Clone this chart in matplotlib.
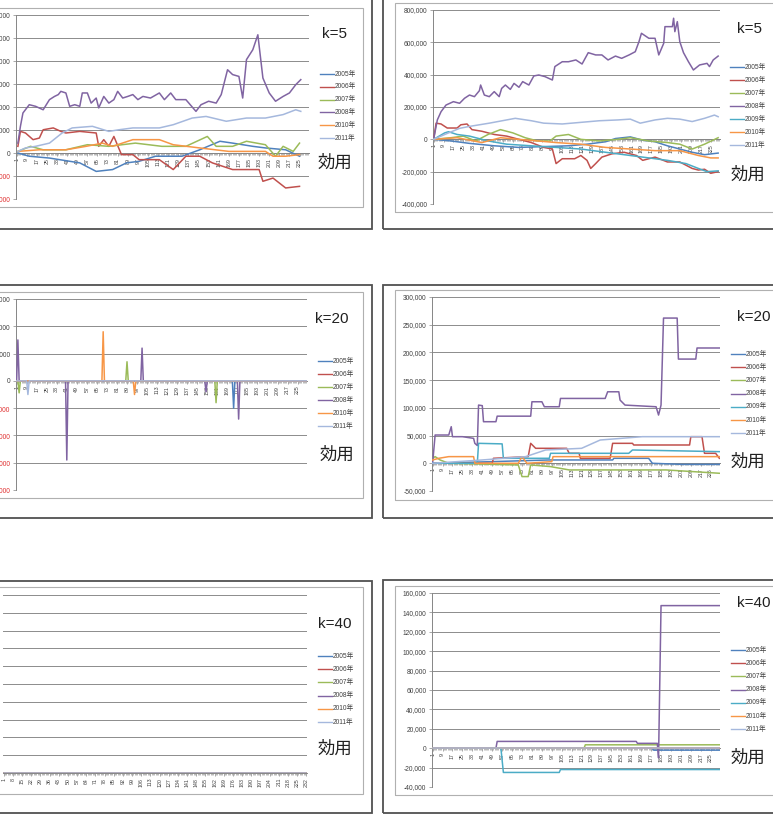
import matplotlib
matplotlib.use("Agg")
import matplotlib.pyplot as plt
from matplotlib.lines import Line2D
from matplotlib.patches import Rectangle
import numpy as np

plt.rcParams['font.family'] = ['Liberation Sans', 'Noto Sans CJK JP']

W, H = 773, 830
N = 232

years_left = ['2005年', '2006年', '2007年', '2008年', '2010年', '2011年']
years_right = ['2005年', '2006年', '2007年', '2008年', '2009年', '2010年', '2011年']
colors = {'2005年': '#4F81BD', '2006年': '#C0504D', '2007年': '#9BBB59', '2008年': '#8064A2',
          '2009年': '#4BACC6', '2010年': '#F79646', '2011年': '#A5B8DD'}

# k=5, left chart (category, value in thousands)
k5_left = {
    '2005年': [(2, 0), (11, -14), (27, -22), (51, -43), (64, -80), (77, -72), (88, -43), (98, -36), (111, -14),
              (132, -14), (146, 14), (162, 51), (172, 43), (188, 29), (198, 22), (214, 14), (225, -14)],
    '2006年': [(2, 29), (4, 94), (8, 87), (14, 58), (19, 65), (22, 101), (30, 109), (36, 94), (40, 87), (51, 94),
              (64, 87), (66, 29), (70, 58), (74, 29), (78, 72), (84, -7), (93, -7), (98, -29), (114, -29),
              (125, -72), (135, -14), (146, -14), (156, -43), (172, -72), (193, -72), (196, -123), (204, -109),
              (214, -152), (225, -145)],
    '2007年': [(2, 7), (12, 29), (22, 14), (40, 14), (57, 36), (74, 29), (95, 43), (116, 29), (135, 29), (152, 72),
              (159, 29), (172, 29), (183, 51), (198, 36), (206, -14), (212, 29), (220, 7), (225, 43)],
    '2008年': [(2, 43), (4, 116), (6, 174), (11, 210), (16, 203), (22, 188), (27, 232), (31, 246), (34, 254),
              (36, 268), (40, 261), (43, 203), (47, 210), (51, 203), (53, 261), (57, 261), (60, 217), (64, 239),
              (66, 196), (70, 246), (74, 217), (78, 232), (81, 268), (85, 239), (89, 246), (93, 254), (97, 232),
              (101, 246), (107, 239), (114, 261), (118, 232), (123, 261), (127, 232), (135, 232), (143, 181),
              (147, 210), (153, 225), (159, 217), (163, 254), (168, 362), (172, 341), (177, 333), (180, 239),
              (183, 406), (188, 449), (192, 514), (196, 326), (201, 261), (206, 225), (212, 246), (217, 261),
              (222, 297), (226, 319)],
    '2010年': [(2, 7), (19, 14), (40, 14), (56, 29), (69, 43), (77, 29), (93, 58), (114, 58), (125, 36), (146, 22),
              (169, 7), (198, 7), (204, -14), (214, -14), (225, -7)],
    '2011年': [(2, 7), (8, 22), (16, 29), (27, 43), (37, 87), (45, 109), (61, 116), (74, 94), (82, 101), (93, 109),
              (114, 109), (125, 123), (140, 152), (151, 159), (167, 138), (183, 152), (198, 152), (212, 167),
              (222, 188), (226, 181)],
}

# k=5, right chart
k5_right = {
    '2005年': [(1, 0), (15, -10), (30, -25), (50, -40), (70, -50), (90, -45), (110, -40), (125, -30), (140, -15),
              (148, 5), (160, 15), (170, -5), (180, -15), (190, -40), (200, -60), (210, -80), (220, -95), (231, -85)],
    '2006年': [(1, 0), (3, 100), (7, 95), (12, 70), (20, 70), (23, 90), (28, 95), (32, 60), (40, 50), (50, 30),
              (60, 20), (70, 0), (80, -20), (90, -50), (97, -60), (100, -150), (105, -120), (115, -120),
              (120, -100), (125, -130), (128, -180), (132, -150), (137, -110), (145, -90), (155, -80), (165, -100),
              (170, -130), (180, -110), (190, -140), (200, -140), (210, -180), (215, -190), (220, -185),
              (225, -210), (231, -200)],
    '2007年': [(1, 0), (15, 10), (25, 20), (35, -10), (45, 30), (55, 60), (65, 40), (75, 10), (85, -10), (95, -10),
              (100, 20), (110, 30), (120, 0), (135, -10), (150, 0), (160, 10), (175, -10), (190, -20), (200, -30),
              (210, -60), (220, -30), (231, 10)],
    '2008年': [(1, 0), (4, 120), (7, 171), (11, 212), (13, 219), (17, 233), (22, 223), (26, 254), (30, 274),
              (34, 264), (38, 301), (39, 336), (42, 274), (46, 264), (50, 295), (54, 264), (56, 315), (59, 336),
              (63, 309), (66, 346), (70, 322), (73, 357), (78, 336), (82, 392), (86, 398), (91, 388), (97, 367),
              (99, 450), (105, 480), (110, 480), (116, 491), (121, 466), (126, 536), (132, 522), (137, 522),
              (142, 491), (148, 515), (153, 501), (159, 522), (164, 542), (167, 604), (169, 656), (175, 625),
              (180, 625), (183, 522), (187, 594), (188, 697), (194, 697), (195, 749), (196, 666), (198, 728),
              (200, 604), (203, 536), (207, 480), (211, 429), (216, 460), (222, 470), (224, 450), (227, 491),
              (231, 515)],
    '2009年': [(1, 0), (10, 40), (13, 47), (20, 30), (30, 20), (45, -10), (60, -30), (80, -40), (100, -50),
              (120, -60), (140, -80), (160, -100), (175, -115), (190, -130), (205, -150), (215, -180), (222, -200),
              (231, -195)],
    '2010年': [(1, 0), (20, 10), (40, -20), (55, 10), (70, 0), (85, -10), (100, -20), (120, -30), (140, -50),
              (160, -60), (180, -70), (200, -70), (215, -100), (225, -115), (231, -115)],
    '2011年': [(1, 0), (10, 30), (22, 68), (30, 80), (46, 100), (60, 120), (67, 130), (80, 115), (90, 100),
              (105, 95), (120, 105), (135, 115), (150, 120), (160, 125), (168, 100), (180, 120), (190, 130),
              (200, 125), (210, 110), (220, 130), (228, 150), (231, 140)],
}

# k=20, left chart: zero except these spikes
k20_left_spikes = {
    '2005年': [(174, -50)],
    '2006年': [],
    '2007年': [(3, -22), (89, 35), (160, -40)],
    '2008年': [(2, 75), (41, -145), (101, 60), (152, -20), (178, -70)],
    '2010年': [(70, 90), (95, -25)],
    '2011年': [(10, -25)],
}

# k=20, right chart
k20_right = {
    '2005年': [(1, 0), (49, 3), (95, 6), (146, 6), (147, 9), (175, 9), (178, 0), (202, -2), (232, -2)],
    '2006年': [(1, 0), (49, 0), (50, 9), (78, 12), (80, 36), (84, 27), (109, 27), (111, 18), (119, 18), (120, 9),
              (144, 9), (146, 36), (162, 36), (163, 33), (208, 33), (209, 48), (218, 48), (220, 18), (229, 18),
              (232, 9)],
    '2007年': [(1, 9), (3, 12), (7, 6), (14, 0), (70, -3), (73, -24), (78, -24), (80, -3), (96, -6), (111, -12),
              (189, -12), (232, -18)],
    '2008年': [(1, 0), (3, 51), (14, 51), (16, 66), (17, 48), (25, 48), (34, 45), (35, 36), (37, 32), (38, 105),
              (41, 104), (42, 75), (52, 75), (53, 85), (80, 85), (81, 111), (89, 111), (91, 102), (103, 102),
              (104, 117), (140, 117), (142, 129), (151, 129), (152, 114), (156, 105), (181, 102), (183, 87),
              (185, 105), (187, 262), (198, 262), (199, 188), (213, 188), (214, 208), (232, 208)],
    '2009年': [(1, 0), (37, 0), (38, 36), (57, 35), (58, 9), (95, 9), (96, 18), (159, 18), (162, 24), (232, 21)],
    '2010年': [(1, 6), (6, 9), (14, 12), (34, 12), (35, 0), (70, 0), (73, 12), (77, 0), (97, 3), (98, 12),
              (232, 12)],
    '2011年': [(1, 0), (41, 6), (76, 12), (92, 24), (121, 27), (136, 42), (170, 48), (202, 48), (232, 48)],
}

# k=40, left chart: every series stays at zero
k40_left = {y: np.zeros(N) for y in years_left}

# k=40, right chart
k40_right = {
    '2005年': [(1, 0), (178, 0), (179, -2), (232, -2)],
    '2006年': [(1, 0), (232, 0)],
    '2007年': [(1, 0), (123, 0), (124, 3.5), (232, 3.5)],
    '2008年': [(1, 0), (52, 0), (53, 7), (165, 7), (166, 5), (182, 5), (183, -10), (185, 147), (232, 147)],
    '2009年': [(1, 0), (56, 0), (58, -25), (103, -25), (104, -22), (232, -22)],
    '2010年': [(1, 0), (232, 0)],
    '2011年': [(1, 0), (232, 0)],
}

fig = plt.figure(figsize=(W / 100, H / 100), dpi=100)


def box(x0, x1, y0, y1, ec, lw):
    fig.add_artist(Rectangle((x0 / W, 1 - y1 / H), (x1 - x0) / W, (y1 - y0) / H, transform=fig.transFigure,
                             fill=False, ec=ec, lw=lw, zorder=0))


def panel(x0, x1, y0, y1, ylo, yhi, ystep, label_step, red_neg):
    ax = fig.add_axes([x0 / W, 1 - y1 / H, (x1 - x0) / W, (y1 - y0) / H])
    ax.set_xlim(0.5, N + 0.5)
    ax.set_ylim(ylo, yhi)
    ticks = np.arange(ylo, yhi + ystep / 2, ystep)
    ax.set_yticks(ticks)
    ax.set_yticklabels([f"{t:,.0f}" for t in ticks], fontsize=4.8, color='#404040')
    if red_neg:
        for t, lab in zip(ticks, ax.get_yticklabels()):
            if t < 0:
                lab.set_color('#E03030')
    ax.set_xticks(range(1, N + 1, label_step))
    ax.set_xticks(range(1, N + 1), minor=True)
    ax.tick_params(axis='x', which='major', length=2.5, width=0.5, color='#868686', labelsize=3.8,
                   labelrotation=90, pad=1, labelcolor='#404040')
    ax.tick_params(axis='x', which='minor', length=1.5, width=0.4, color='#868686')
    ax.tick_params(axis='y', length=2, width=0.5, color='#868686', pad=2)
    ax.spines['bottom'].set_position(('data', 0))
    for s in ['top', 'right']:
        ax.spines[s].set_visible(False)
    for s in ['bottom', 'left']:
        ax.spines[s].set_color('#868686')
        ax.spines[s].set_linewidth(0.7)
    ax.yaxis.grid(True, color='#8C8C8C', lw=0.7)
    ax.set_axisbelow(True)
    return ax


def plot_points(ax, data, names):
    for nm in names:
        pts = data[nm]
        xs = [p[0] for p in pts]
        ys = [p[1] * 1000 for p in pts]
        ax.plot(xs, ys, color=colors[nm], lw=1.1, zorder=3)


def legend(x, y0, dy, names):
    for i, nm in enumerate(names):
        y = 1 - (y0 + i * dy) / H
        fig.add_artist(Line2D([x / W, (x + 14) / W], [y, y], color=colors[nm], lw=1.0))
        fig.text((x + 15) / W, y, nm, fontsize=4.8, va='center', color='#404040')


# frames
for (x0, x1, y0, y1) in [(-10, 372, -5, 229), (-10, 372, 285, 518), (-10, 372, 581, 813)]:
    box(x0, x1, y0, y1, '#505050', 1.3)
for (x0, x1, y0, y1) in [(383, 790, -5, 229), (383, 790, 285, 518), (383, 790, 580, 813)]:
    box(x0, x1, y0, y1, '#505050', 1.3)
for (x0, x1, y0, y1) in [(-10, 363, 8, 207), (-10, 363, 292, 498), (-10, 363, 587, 794),
                         (395, 790, 3, 212), (395, 790, 290, 500), (395, 790, 586, 795)]:
    box(x0, x1, y0, y1, '#B0B0B0', 0.8)

# k=5
ax = panel(16, 309, 15, 199, -200000, 600000, 100000, 8, True)
plot_points(ax, k5_left, years_left)
legend(320, 74, 12.8, years_left)
fig.text(322 / W, 1 - 34 / H, 'k=5', fontsize=11, va='center', color='#202020')
fig.text(318 / W, 1 - 163 / H, '効用', fontsize=12.5, va='center', color='#202020')

ax = panel(433, 720, 10, 204, -400000, 800000, 200000, 8, False)
plot_points(ax, k5_right, years_right)
legend(730, 67, 13, years_right)
fig.text(737 / W, 1 - 29 / H, 'k=5', fontsize=11, va='center', color='#202020')
fig.text(731 / W, 1 - 175 / H, '効用', fontsize=12.5, va='center', color='#202020')

# k=20
ax = panel(16, 307, 299, 490, -200000, 150000, 50000, 8, True)
cats = np.arange(1, N + 1)
for nm in years_left:
    vals = np.zeros(N)
    for c, v in k20_left_spikes[nm]:
        vals[c - 1] = v * 1000
    ax.plot(cats, vals, color=colors[nm], lw=1.1, zorder=3)
legend(318, 361, 13, years_left)
fig.text(315 / W, 1 - 319 / H, 'k=20', fontsize=11, va='center', color='#202020')
fig.text(320 / W, 1 - 455 / H, '効用', fontsize=12.5, va='center', color='#202020')

ax = panel(432, 720, 297, 491, -50000, 300000, 50000, 8, False)
plot_points(ax, k20_right, years_right)
legend(731, 354, 13.2, years_right)
fig.text(737 / W, 1 - 317 / H, 'k=20', fontsize=11, va='center', color='#202020')
fig.text(731 / W, 1 - 462 / H, '効用', fontsize=12.5, va='center', color='#202020')

# k=40
ax = panel(3, 307, 595, 773, 0, 10, 1, 7, True)
ax.tick_params(axis='y', labelleft=False, length=0)
ax.spines['left'].set_visible(False)
for nm in years_left:
    ax.plot(cats, k40_left[nm], color=colors[nm], lw=1.1, zorder=1)
legend(318, 656, 13.2, years_left)
fig.text(318 / W, 1 - 624 / H, 'k=40', fontsize=11, va='center', color='#202020')
fig.text(318 / W, 1 - 749 / H, '効用', fontsize=12.5, va='center', color='#202020')

ax = panel(432, 720, 593, 787, -40000, 160000, 20000, 8, False)
plot_points(ax, k40_right, years_right)
legend(731, 650, 13.2, years_right)
fig.text(737 / W, 1 - 603 / H, 'k=40', fontsize=11, va='center', color='#202020')
fig.text(731 / W, 1 - 758 / H, '効用', fontsize=12.5, va='center', color='#202020')

fig.savefig('out.png', dpi=100)
plt.close()
